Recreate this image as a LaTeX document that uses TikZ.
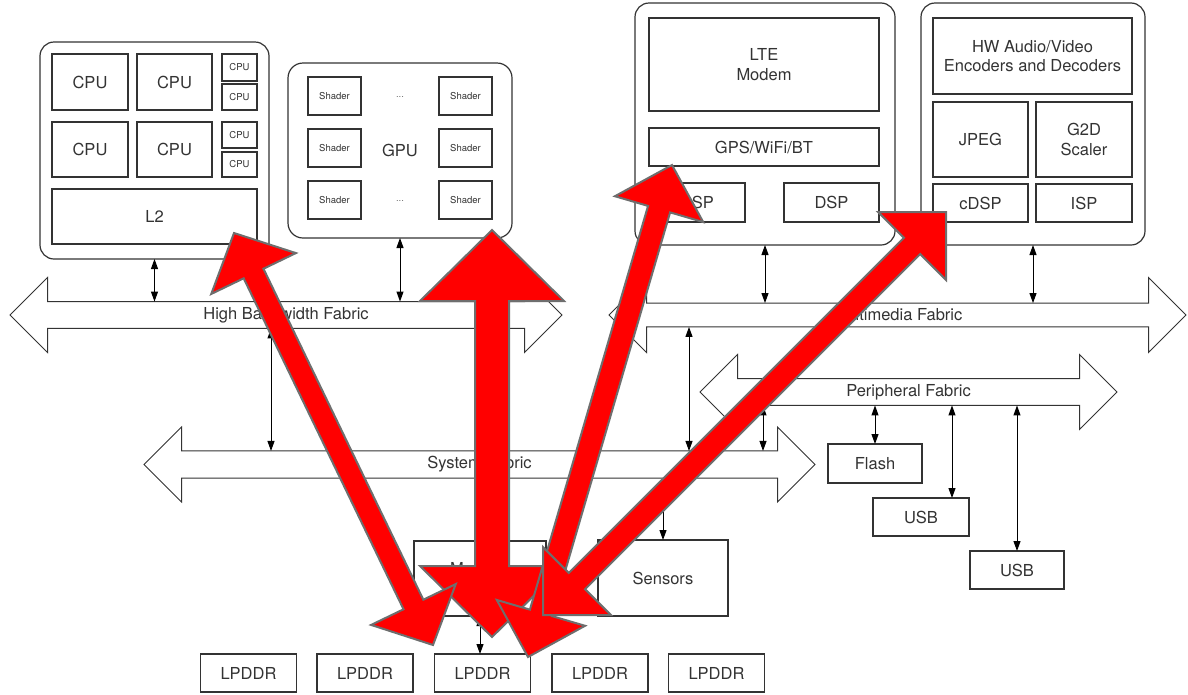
\documentclass[tikz,border=0pt]{standalone}
\usepackage{fontspec}
\setmainfont{TeX Gyre Heros}
\usetikzlibrary{shapes.arrows,arrows.meta,calc}

\definecolor{ink}{HTML}{333333}
\definecolor{hot}{HTML}{FF0000}
\definecolor{hotedge}{HTML}{6E6E6E}

% thick red double arrow: tip, tip, shaft half width, head half width, head length
\newcommand{\flowarrow}[5]{%
  \draw[flow] (#1)
    -- ($(#1)!#5!(#2)!#4!90:(#2)$)
    -- ($(#1)!#5!(#2)!#3!90:(#2)$)
    -- ($(#2)!#5!(#1)!#3!-90:(#1)$)
    -- ($(#2)!#5!(#1)!#4!-90:(#1)$)
    -- (#2)
    -- ($(#2)!#5!(#1)!#4!90:(#1)$)
    -- ($(#2)!#5!(#1)!#3!90:(#1)$)
    -- ($(#1)!#5!(#2)!#3!-90:(#2)$)
    -- ($(#1)!#5!(#2)!#4!-90:(#2)$)
    -- cycle;}

\begin{document}
\begin{tikzpicture}[x=1pt, y=-1pt,
    box/.style={draw=ink, line width=1.2pt, text=ink, align=center, inner sep=1pt, outer sep=0pt,
      font=\fontsize{16.5}{19.5}\selectfont},
    tiny/.style={box, font=\fontsize{9.5}{11}\selectfont},
    cluster/.style={draw=ink, line width=1.2pt, rounded corners=14pt, text=ink, outer sep=0pt,
      font=\fontsize{16.5}{19.5}\selectfont},
    dots/.style={text=ink!70, font=\fontsize{9.5}{11}\selectfont},
    fabric/.style={double arrow, draw=ink, line width=1pt, fill=white, text=ink, inner sep=2pt, outer sep=0pt,
      minimum width=75pt, double arrow head extend=18.5pt, double arrow head indent=0pt,
      font=\fontsize{16.5}{19.5}\selectfont},
    link/.style={{Triangle[length=10pt,width=7pt]}-{Triangle[length=10pt,width=7pt]}, line width=1pt},
    feed/.style={-{Triangle[length=10pt,width=7pt]}, line width=1pt},
    flow/.style={fill=hot, draw=hotedge, line width=2pt, line join=miter}
]
\useasboundingbox (0,0) rectangle (1188,694);

% CPU cluster
\node[cluster, minimum width=229pt, minimum height=217pt] (cpus) at (154.5,150.5) {};
\node[box, minimum width=76pt, minimum height=56pt] (cpu1) at (90,82) {CPU};
\node[box, minimum width=75pt, minimum height=56pt] (cpu2) at (174.5,82) {CPU};
\node[box, minimum width=76pt, minimum height=55pt] (cpu3) at (90,149.5) {CPU};
\node[box, minimum width=75pt, minimum height=55pt] (cpu4) at (174.5,149.5) {CPU};
\node[tiny, minimum width=35pt, minimum height=27pt] (lit1) at (239.5,67.5) {CPU};
\node[tiny, minimum width=35pt, minimum height=26pt] (lit2) at (239.5,97) {CPU};
\node[tiny, minimum width=35pt, minimum height=26pt] (lit3) at (239.5,135) {CPU};
\node[tiny, minimum width=35pt, minimum height=25pt] (lit4) at (239.5,164.5) {CPU};
\node[box, minimum width=205pt, minimum height=55pt] (l2) at (154.5,216.5) {L2};

% GPU cluster
\node[cluster, rounded corners=15pt, minimum width=224pt, minimum height=175pt] (gpu) at (400,150.5) {GPU};
\node[tiny, minimum width=53pt, minimum height=38pt] (shl1) at (334.5,96) {Shader};
\node[tiny, minimum width=53pt, minimum height=38pt] (shr1) at (465.5,96) {Shader};
\node[tiny, minimum width=53pt, minimum height=38pt] (shl2) at (334.5,148) {Shader};
\node[tiny, minimum width=53pt, minimum height=38pt] (shr2) at (465.5,148) {Shader};
\node[tiny, minimum width=53pt, minimum height=38pt] (shl3) at (334.5,200) {Shader};
\node[tiny, minimum width=53pt, minimum height=38pt] (shr3) at (465.5,200) {Shader};
\node[dots] (gdots1) at (400,97) {...};
\node[dots] (gdots2) at (400,201) {...};

% Modem cluster
\node[cluster, minimum width=260pt, minimum height=242pt] (modem) at (765,124) {};
\node[box, minimum width=230pt, minimum height=93pt] (lte) at (764,64.5) {LTE\\Modem};
\node[box, minimum width=230pt, minimum height=38pt] (gps) at (764,147) {GPS/WiFi/BT};
\node[box, minimum width=96pt, minimum height=39pt] (dsp1) at (697,202.5) {DSP};
\node[box, minimum width=95pt, minimum height=39pt] (dsp2) at (831.5,202.5) {DSP};

% Multimedia cluster
\node[cluster, minimum width=224pt, minimum height=242pt] (media) at (1033,124) {};
\node[box, minimum width=199pt, minimum height=76pt] (codec) at (1032.5,56) {HW Audio/Video\\Encoders and Decoders};
\node[box, minimum width=95pt, minimum height=75pt] (jpeg) at (980.5,139.5) {JPEG};
\node[box, minimum width=96pt, minimum height=75pt] (g2d) at (1084,139.5) {G2D\\Scaler};
\node[box, minimum width=95pt, minimum height=38pt] (cdsp) at (980.5,203) {cDSP};
\node[box, minimum width=96pt, minimum height=38pt] (isp) at (1084,203) {ISP};

% Fabrics
\node[fabric, minimum height=552pt] (hbf) at (286,315) {High Bandwidth Fabric};
\node[fabric, minimum height=577pt] (mmf) at (897.5,315) {Multimedia Fabric};
\node[fabric, minimum height=417pt] (pf) at (908.5,392) {Peripheral Fabric};
\node[fabric, minimum height=671pt] (sysf) at (479.5,464.5) {System Fabric};

% Memory, sensors, peripherals
\node[box, minimum width=132pt, minimum height=75pt] (mc) at (480,578.5) {Memory\\Controller};
\node[box, minimum width=130pt, minimum height=76pt] (sensors) at (663,578) {Sensors};
\node[box, minimum width=94pt, minimum height=39pt] (flash) at (875,463.5) {Flash};
\node[box, minimum width=96pt, minimum height=38pt] (usb1) at (921,517) {USB};
\node[box, minimum width=94pt, minimum height=38pt] (usb2) at (1017,570) {USB};
\node[box, minimum width=96pt, minimum height=38pt] (ddr1) at (248.5,673) {LPDDR};
\node[box, minimum width=96pt, minimum height=38pt] (ddr2) at (365,673) {LPDDR};
\node[box, minimum width=96pt, minimum height=38pt] (ddr3) at (482.5,673) {LPDDR};
\node[box, minimum width=96pt, minimum height=38pt] (ddr4) at (600,673) {LPDDR};
\node[box, minimum width=96pt, minimum height=38pt] (ddr5) at (716.5,673) {LPDDR};

% Links
\coordinate (hbftap) at (271,335);
\coordinate (mmftap) at (689,335);
\coordinate (pftap) at (763,411);
\coordinate (usbtap) at (952,411);
\draw[link] (cpus.south) -- (cpus.south |- hbf.90);
\draw[link] (gpu.south) -- (gpu.south |- hbf.90);
\draw[link] (modem.south) -- (modem.south |- mmf.90);
\draw[link] (media.south) -- (media.south |- mmf.90);
\draw[link] (hbftap |- hbf.270) -- (hbftap |- sysf.90);
\draw[link] (mmftap |- mmf.270) -- (mmftap |- sysf.90);
\draw[link] (pftap |- pf.270) -- (pftap |- sysf.90);
\draw[link] (flash.north |- pf.270) -- (flash.north);
\draw[link] (usbtap |- pf.270) -- (usbtap |- usb1.north);
\draw[link] (usb2.north |- pf.270) -- (usb2.north);
\draw[feed] (sensors.north |- sysf.270) -- (sensors.north);
\draw[link] (mc.south) -- (mc.south |- ddr3.north);

% Red overlay arrows
\coordinate (gputip) at (492,230);
\coordinate (mctip) at (492,637);
\coordinate (l2tip) at (234,233);
\coordinate (ddrtipa) at (433,645);
\coordinate (gpstip) at (672,165);
\coordinate (ddrtipc) at (528,657);
\coordinate (cdsptip) at (946,212);
\coordinate (sentip) at (543,615);
\flowarrow{gputip}{mctip}{17pt}{72pt}{71pt}
\flowarrow{l2tip}{ddrtipa}{11pt}{47pt}{45pt}
\flowarrow{gpstip}{ddrtipc}{11.5pt}{46pt}{46pt}
\flowarrow{cdsptip}{sentip}{11.5pt}{48pt}{48pt}
\end{tikzpicture}
\end{document}
